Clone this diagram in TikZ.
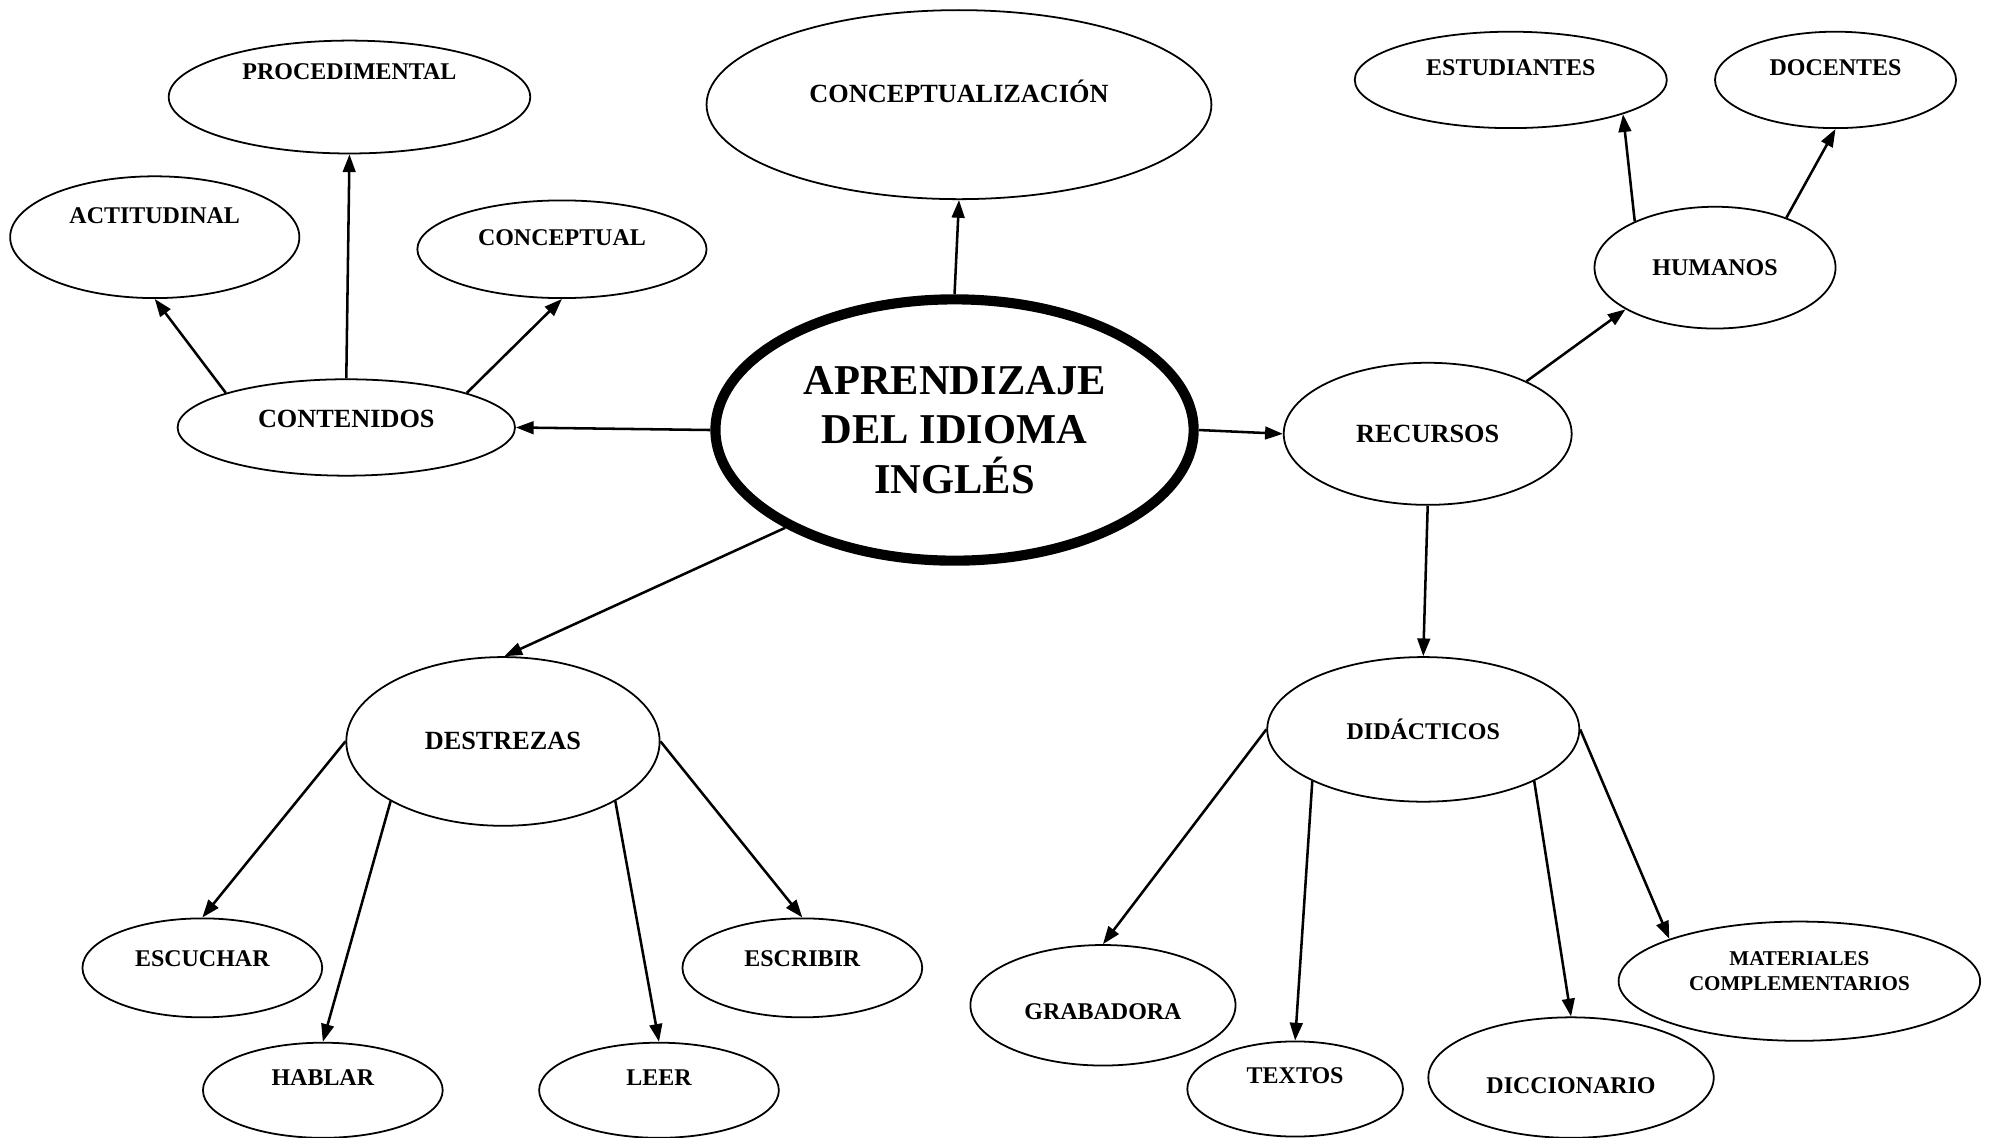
\documentclass[tikz,border=0pt]{standalone}
\usepackage{fontspec}
\setmainfont{Liberation Serif}
\usetikzlibrary{arrows.meta, shapes.geometric}

\tikzset{
    idea/.style={ellipse, draw, line width=0.7pt, inner sep=0pt,
        font=\bfseries\fontsize{9.45}{11}\selectfont},
    bigidea/.style={idea, font=\bfseries\fontsize{10.35}{12}\selectfont},
    lift/.style={text height=6.3pt, text depth=#1},   % pushes the label up
    biglift/.style={text height=6.9pt, text depth=#1},
    link/.style={line width=1pt, -{Triangle[length=7pt, width=5pt]}}
}

\begin{document}
\begin{tikzpicture}[x=0.5pt, y=-0.5pt]
    % Page the size of the original
    \useasboundingbox (0,0) rectangle (1568,897);

    % Central idea with a thick border
    \node[
        ellipse, draw,
        line width=4pt, % heavy frame
        minimum width=188.5pt, minimum height=103pt,
        align=center,
        font=\bfseries\fontsize{16.75}{19.5}\selectfont
    ] (main) at (752.5,339) {APRENDIZAJE\\DEL IDIOMA\\INGLÉS};

    \node[bigidea, biglift=8.5pt, minimum width=199pt, minimum height=74.5pt] (concepz) at (756,82.5) {CONCEPTUALIZACIÓN};

    % Left branch
    \node[bigidea, biglift=7pt, minimum width=133pt, minimum height=38pt] (conten) at (273,337) {CONTENIDOS};
    \node[idea, lift=20.5pt, minimum width=142.5pt, minimum height=44.5pt] (proced) at (275.5,76.5) {PROCEDIMENTAL};
    \node[idea, lift=17pt, minimum width=114pt, minimum height=48pt] (actit) at (122,187) {ACTITUDINAL};
    \node[idea, lift=9.5pt, minimum width=114pt, minimum height=38.5pt] (concep) at (443,196.5) {CONCEPTUAL};

    % Right branch
    \node[bigidea, minimum width=113.5pt, minimum height=56pt] (recur) at (1125.5,342) {RECURSOS};
    \node[idea, minimum width=95pt, minimum height=48pt] (human) at (1352,211) {HUMANOS};
    \node[idea, lift=10pt, minimum width=123pt, minimum height=38pt] (estud) at (1191,63) {ESTUDIANTES};
    \node[idea, lift=10pt, minimum width=95pt, minimum height=38pt] (docen) at (1447,63) {DOCENTES};

    \node[idea, minimum width=123pt, minimum height=57pt] (didac) at (1122,575) {DIDÁCTICOS};
    \node[idea, text height=11.3pt, minimum width=104.5pt, minimum height=47.5pt] (grab) at (869.5,792.5) {GRABADORA};
    \node[idea, lift=11pt, minimum width=85pt, minimum height=37.5pt] (textos) at (1021,858.5) {TEXTOS};
    \node[idea, text height=12.8pt, minimum width=112.5pt, minimum height=47.5pt] (dicci) at (1238.5,849.5) {DICCIONARIO};
    \node[idea, align=center, font=\bfseries\fontsize{8.3}{10}\selectfont,
        minimum width=142.5pt, minimum height=47pt] (mater) at (1418.5,773.5) {MATERIALES\\COMPLEMENTARIOS\\[-2pt]\mbox{}};

    % Lower branch
    \node[bigidea, minimum width=123.5pt, minimum height=66.5pt] (destr) at (396.5,584.5) {DESTREZAS};
    \node[idea, lift=7pt, minimum width=94.5pt, minimum height=39pt] (escuc) at (159.5,763) {ESCUCHAR};
    \node[idea, lift=10pt, minimum width=94.5pt, minimum height=37.5pt] (habla) at (254.5,859.5) {HABLAR};
    \node[idea, lift=10pt, minimum width=94.5pt, minimum height=37.5pt] (leer) at (519.5,859.5) {LEER};
    \node[idea, lift=7pt, minimum width=94.5pt, minimum height=39pt] (escri) at (632.5,763) {ESCRIBIR};

    % Arrows
    \draw[link] (main.north) -- (concepz.south);
    \draw[link] (main.west) -- (conten.east);
    \draw[link] (main.east) -- (recur.west);
    \draw[link] (main.210) -- (destr.89);

    \draw[link] (conten.164) -- (actit.south);
    \draw[link] (conten.north) -- (proced.south);
    \draw[link] (conten.16) -- (concep.south);

    \draw[link] (recur.28) -- (human.205);
    \draw[link] (human.150) -- (estud.-17);
    \draw[link] (human.35) -- (docen.south);
    \draw[link] (recur.south) -- (didac.north);

    \draw[link] (didac.west) -- (grab.north);
    \draw[link] (didac.205) -- (textos.north);
    \draw[link] (didac.-25) -- (dicci.north);
    \draw[link] (didac.east) -- (mater.162);

    \draw[link] (destr.west) -- (escuc.north);
    \draw[link] (destr.208) -- (habla.north);
    \draw[link] (destr.-28) -- (leer.north);
    \draw[link] (destr.east) -- (escri.north);
\end{tikzpicture}
\end{document}
